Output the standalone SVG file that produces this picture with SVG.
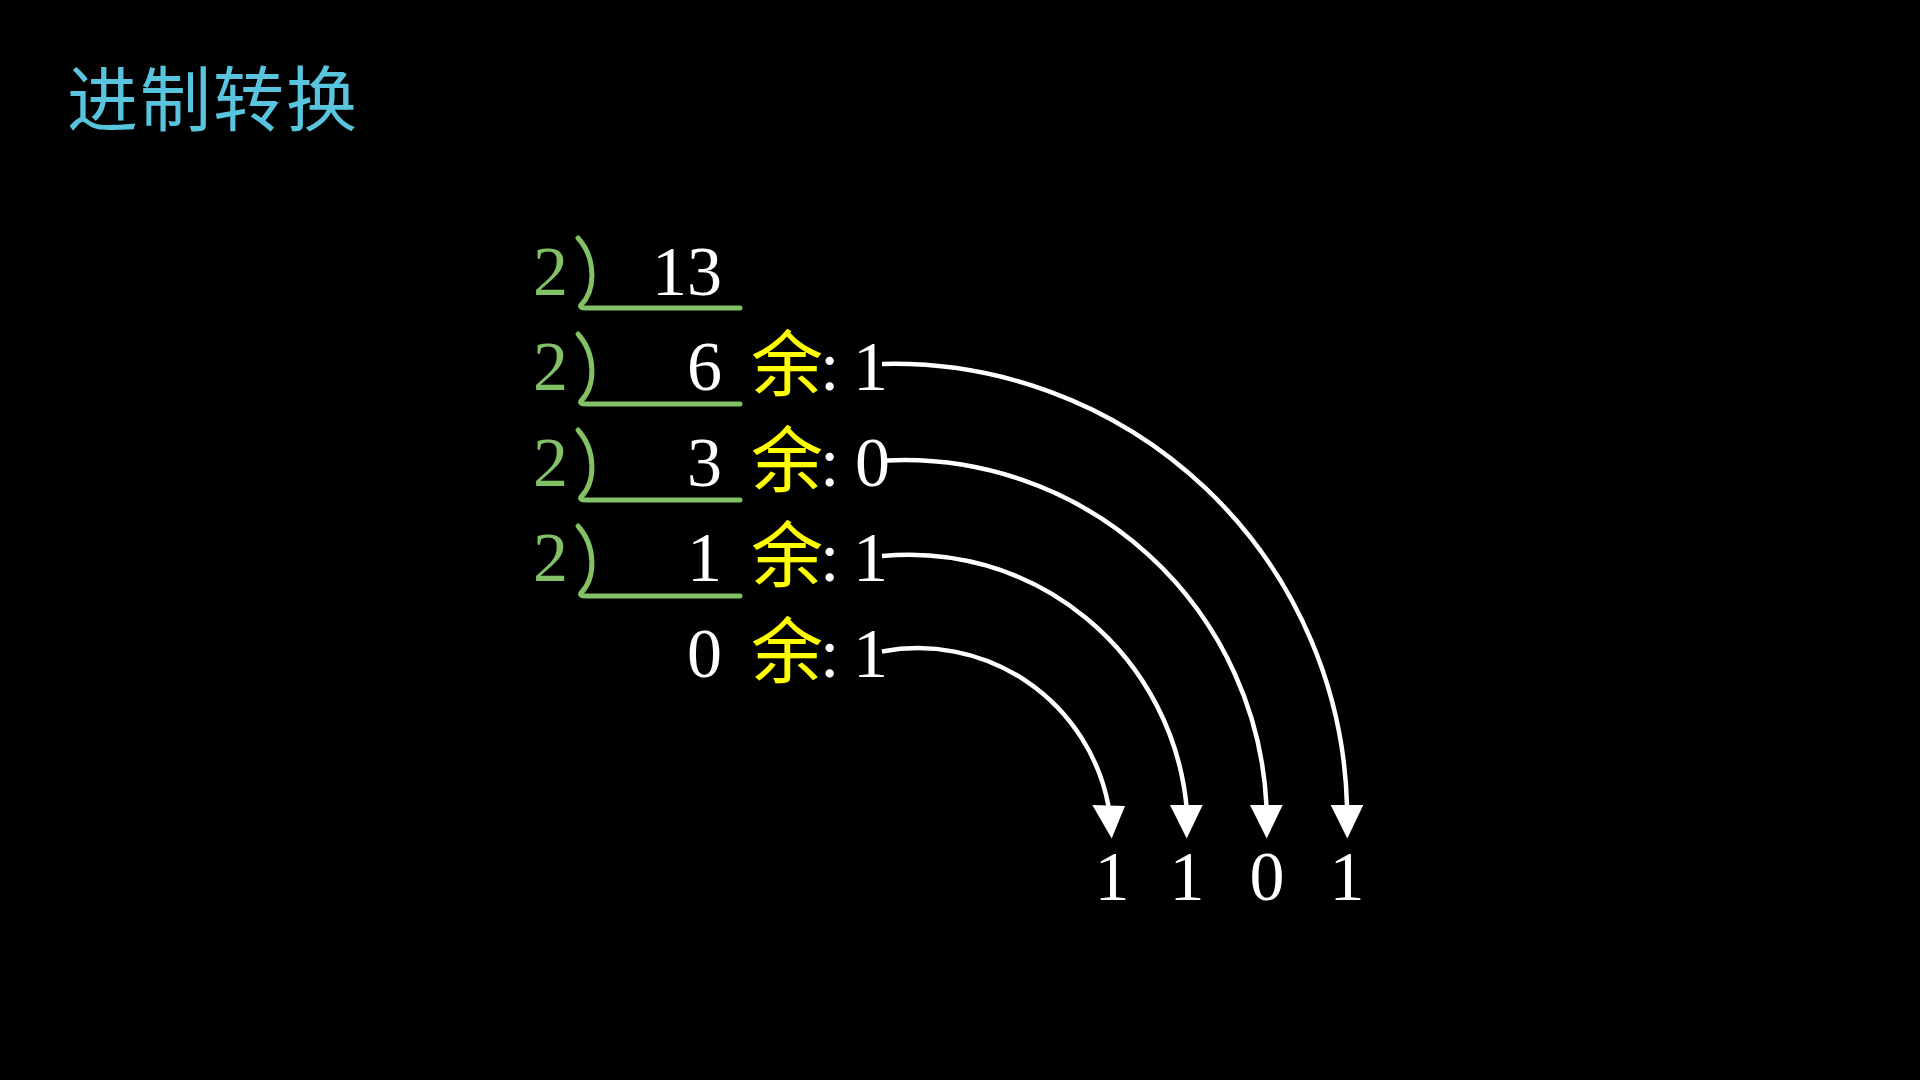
<svg xmlns="http://www.w3.org/2000/svg" xmlns:xlink="http://www.w3.org/1999/xlink" width="1920" height="1080" viewBox="0 0 1920 1080">
<style>
.num{font-family:"Liberation Serif","Times New Roman",serif;font-size:70px;fill:#FFFFFF}
.div{font-family:"Liberation Serif","Times New Roman",serif;font-size:70px;fill:#83C167}
.yu{font-family:"Noto Sans CJK SC","Noto Sans CJK JP",sans-serif;font-size:72px;fill:#FFFF00}
.title{font-family:"Noto Sans CJK SC","Noto Sans CJK JP",sans-serif;font-size:71px;fill:#58C4DD;letter-spacing:2px}
.br{fill:none;stroke:#83C167;stroke-width:5;stroke-linecap:round;stroke-linejoin:round}
.arc{fill:none;stroke:#FFFFFF;stroke-width:4.5}
.head{fill:#FFFFFF}
</style>
<defs>
<path id="bracket" d="M578,238 C596,258 596,290 581,305 Q579,308 586,308 L740,308"/>
</defs>
<rect x="0" y="0" width="1920" height="1080" fill="#000000"/>
<g id="title">
<text class="title" x="67" y="125">进制转换</text>
</g>
<g id="row1">
<text class="div" x="533" y="295">2</text>
<use xlink:href="#bracket" class="br"/>
<text class="num" x="722" y="295" text-anchor="end">13</text>
</g>
<g id="row2">
<text class="div" x="533" y="390">2</text>
<use xlink:href="#bracket" class="br" transform="translate(0,96)"/>
<text class="num" x="722" y="390" text-anchor="end">6</text>
<text class="yu" x="751" y="390">余</text>
<text class="num" x="820" y="390">:</text>
<text class="num" x="853" y="390">1</text>
</g>
<g id="row3">
<text class="div" x="533" y="485.5">2</text>
<use xlink:href="#bracket" class="br" transform="translate(0,192)"/>
<text class="num" x="722" y="485.5" text-anchor="end">3</text>
<text class="yu" x="751" y="485.5">余</text>
<text class="num" x="820" y="485.5">:</text>
<text class="num" x="855" y="485.5">0</text>
</g>
<g id="row4">
<text class="div" x="533" y="581">2</text>
<use xlink:href="#bracket" class="br" transform="translate(0,288)"/>
<text class="num" x="722" y="581" text-anchor="end">1</text>
<text class="yu" x="751" y="581">余</text>
<text class="num" x="820" y="581">:</text>
<text class="num" x="853" y="581">1</text>
</g>
<g id="row5">
<text class="num" x="722" y="676.5" text-anchor="end">0</text>
<text class="yu" x="751" y="676.5">余</text>
<text class="num" x="820" y="676.5">:</text>
<text class="num" x="853" y="676.5">1</text>
</g>
<g id="result">
<text class="num" x="1112" y="900" text-anchor="middle">1</text>
<text class="num" x="1187" y="900" text-anchor="middle">1</text>
<text class="num" x="1267" y="900" text-anchor="middle">0</text>
<text class="num" x="1347" y="900" text-anchor="middle">1</text>
</g>
<g id="connectors">
<path class="arc" d="M882,364 A453.6,453.6 0 0 1 1347,806"/>
<path class="arc" d="M887,460.5 A362.9,362.9 0 0 1 1266.5,806"/>
<path class="arc" d="M882,556 A278.6,278.6 0 0 1 1186.5,806"/>
<path class="arc" d="M882,651.5 A193.9,193.9 0 0 1 1108.5,806"/>
<polygon class="head" points="1330.7,805 1363.3,805 1347.3,838.5"/>
<polygon class="head" points="1250,805 1282.7,805 1266.7,838.5"/>
<polygon class="head" points="1170,805 1202.7,805 1186.7,838.5"/>
<polygon class="head" points="1092.3,805 1125,806 1111.7,838.5"/>
</g>
</svg>
